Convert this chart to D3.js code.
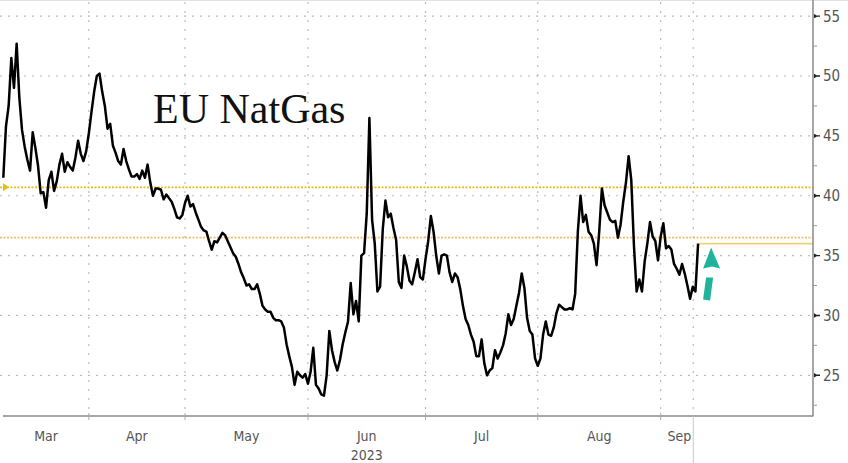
<!DOCTYPE html>
<html>
<head>
<meta charset="utf-8">
<script src="https://cdn.jsdelivr.net/npm/d3@7"></script>
<style>
  html, body { margin: 0; padding: 0; background: #fff; }
  svg { display: block; }
</style>
</head>
<body>
<svg id="chart" width="848" height="463"></svg>
<script>
// ---- data: EU NatGas, two readings per trading day, ~10 Mar 2023 to ~12 Sep 2023 ----
const prices = [
  41.5, 45.8, 47.5, 51.5, 49.0, 52.7, 48.2, 45.5, 44.1, 43.0,
  42.1, 45.3, 44.0, 42.5, 40.2, 40.3, 39.0, 41.3, 42.0, 40.4,
  41.2, 42.6, 43.5, 42.0, 42.8, 42.4, 42.1, 43.2, 44.6, 43.5,
  42.9, 43.7, 45.2, 47.0, 48.7, 50.0, 50.2, 48.7, 47.5, 45.6,
  46.0, 44.2, 43.6, 42.9, 42.6, 43.9, 42.9, 42.2, 41.6, 41.6,
  41.8, 41.4, 42.1, 41.5, 42.6, 41.1, 40.0, 40.6, 40.6, 40.5,
  39.7, 40.1, 39.8, 39.5, 38.9, 38.2, 38.1, 38.4, 39.4, 40.0,
  39.1, 39.3, 38.6, 38.0, 37.4, 37.1, 37.0, 36.2, 35.5, 36.2,
  36.1, 36.5, 36.9, 36.7, 36.2, 35.7, 35.2, 34.9, 34.3, 33.6,
  33.1, 32.5, 32.6, 32.2, 32.2, 32.6, 31.8, 30.8, 30.5, 30.3,
  30.3, 29.8, 29.6, 29.6, 29.5, 29.0, 27.6, 26.6, 25.7, 24.2,
  25.3, 25.0, 24.8, 25.1, 24.3, 25.3, 27.3, 24.2, 23.9, 23.4,
  23.3, 25.0, 28.7, 27.1, 26.1, 25.4, 26.3, 27.6, 28.6, 29.5,
  32.7, 30.1, 31.2, 29.5, 35.0, 35.2, 38.5, 46.5, 38.0, 36.0,
  32.0, 32.4, 37.2, 39.6, 38.2, 38.5, 37.3, 36.3, 32.8, 32.3,
  35.0, 34.1, 32.9, 32.6, 33.6, 34.7, 33.2, 33.0, 34.7, 36.2,
  38.3, 37.0, 35.0, 33.5, 35.0, 35.1, 35.0, 33.6, 32.8, 33.5,
  33.2, 32.2, 30.8, 29.7, 29.2, 28.4, 27.8, 26.6, 26.6, 28.0,
  26.0, 25.0, 25.4, 25.6, 27.1, 26.4, 26.9, 27.5, 28.5, 30.1,
  29.2, 29.7, 30.8, 31.9, 33.5, 32.3, 29.8, 28.7, 28.4, 26.4,
  25.8, 26.4, 28.4, 29.5, 28.4, 28.3, 29.0, 30.2, 30.9, 30.7,
  30.5, 30.5, 30.6, 30.5, 31.8, 37.0, 40.0, 37.8, 38.4, 37.0,
  36.7, 36.0, 34.2, 37.0, 40.6, 39.2, 38.6, 38.0, 37.8, 37.9,
  36.5, 37.6, 39.5, 41.1, 43.3, 41.3, 35.8, 32.0, 33.0, 32.0,
  34.5, 36.0, 37.8, 36.6, 36.2, 34.6, 36.6, 37.7, 35.6, 35.8,
  35.5, 34.3, 33.9, 33.4, 34.3, 33.5, 32.5, 31.4, 32.4, 32.0,
  36.0
];
const monthLabels = ["Mar", "Apr", "May", "Jun", "Jul", "Aug", "Sep"];
const monthStartIndex = [0, 32, 68, 114, 158, 200, 246];
const yearLabel = "2023";
const yTickValues = [25, 30, 35, 40, 45, 50, 55];
const yMinorValues = [22.5, 27.5, 32.5, 37.5, 42.5, 47.5, 52.5];
const levelHigh = 40.7;   // dotted golden line
const levelMid = 36.5;    // dotted orange line
const lastPrice = 36.0;   // last-price line
const titleText = "EU NatGas";

// ---- layout ----
const svg = d3.select("#chart");
const plotRight = 813, plotBottom = 416;
const x = d3.scaleLinear().domain([0, 303]).range([3.3, plotRight]);
const y = d3.scaleLinear().domain([21.6, 56.35]).range([plotBottom, 0]);
const lastIdx = prices.length - 1;
const todayIdx = lastIdx - 1.8;

const axisFont = "'DejaVu Sans Condensed','Liberation Sans Narrow','DejaVu Sans',sans-serif";

// top hairline
svg.append("line").attr("x1", 0).attr("x2", 848).attr("y1", 0.5).attr("y2", 0.5)
  .attr("stroke", "#e2e2e2").attr("stroke-width", 1);

// horizontal grid
svg.append("g").selectAll("line").data(yTickValues).join("line")
  .attr("x1", 0).attr("x2", plotRight)
  .attr("y1", d => y(d)).attr("y2", d => y(d))
  .attr("stroke", "#bdbdbd").attr("stroke-width", 1.2)
  .attr("stroke-dasharray", "2,6");

// vertical grid at month boundaries + today
const vgrid = monthStartIndex.slice(1).map(i => x(i)).concat([x(todayIdx)]);
svg.append("g").selectAll("line").data(vgrid).join("line")
  .attr("x1", d => d).attr("x2", d => d)
  .attr("y1", 2).attr("y2", plotBottom)
  .attr("stroke", "#bdbdbd").attr("stroke-width", 1.2)
  .attr("stroke-dasharray", "2,7");

// reference lines
svg.append("line").attr("x1", 0).attr("x2", plotRight)
  .attr("y1", y(levelHigh)).attr("y2", y(levelHigh))
  .attr("stroke", "#e8bd10").attr("stroke-width", 1.6).attr("stroke-dasharray", "2,1.5");
svg.append("path")
  .attr("d", `M3,${y(levelHigh) - 4} L9,${y(levelHigh)} L3,${y(levelHigh) + 4} Z`)
  .attr("fill", "#e8bd10");
svg.append("line").attr("x1", 0).attr("x2", plotRight)
  .attr("y1", y(levelMid)).attr("y2", y(levelMid))
  .attr("stroke", "#f4bd6a").attr("stroke-width", 1.6).attr("stroke-dasharray", "2,1.5");
svg.append("line").attr("x1", x(lastIdx)).attr("x2", plotRight)
  .attr("y1", y(lastPrice)).attr("y2", y(lastPrice))
  .attr("stroke", "#f1d272").attr("stroke-width", 1.6);

// price line
const line = d3.line().x((d, i) => x(i)).y(d => y(d)).curve(d3.curveLinear);
svg.append("path").datum(prices).attr("d", line)
  .attr("fill", "none").attr("stroke", "#000").attr("stroke-width", 2.5)
  .attr("stroke-linejoin", "round");

// axes lines
svg.append("line").attr("x1", plotRight).attr("x2", plotRight).attr("y1", 0).attr("y2", plotBottom + 0.5)
  .attr("stroke", "#8a8a8a").attr("stroke-width", 1.5);
svg.append("line").attr("x1", 3).attr("x2", plotRight).attr("y1", plotBottom).attr("y2", plotBottom)
  .attr("stroke", "#8a8a8a").attr("stroke-width", 1.5);

// y ticks & labels
const gy = svg.append("g");
gy.selectAll("path.maj").data(yTickValues).join("path").attr("class", "maj")
  .attr("d", d => `M${plotRight + 1},${y(d) - 2.2} L${plotRight + 5},${y(d)} L${plotRight + 1},${y(d) + 2.2} Z M${plotRight + 4},${y(d) - 0.7} h3 v1.4 h-3 Z`)
  .attr("fill", "#222");
gy.selectAll("line.min").data(yMinorValues).join("line").attr("class", "min")
  .attr("x1", plotRight).attr("x2", plotRight + 4)
  .attr("y1", d => y(d)).attr("y2", d => y(d))
  .attr("stroke", "#999").attr("stroke-width", 1);
gy.selectAll("text").data(yTickValues).join("text")
  .attr("x", plotRight + 10).attr("y", d => y(d)).attr("dy", "0.36em")
  .attr("font-family", axisFont).attr("font-size", 15).attr("fill", "#555")
  .text(d => d);

// x ticks & labels
const boundaries = monthStartIndex.slice(1);
svg.append("g").selectAll("line").data(boundaries).join("line")
  .attr("x1", d => x(d)).attr("x2", d => x(d))
  .attr("y1", plotBottom - 3).attr("y2", plotBottom + 4)
  .attr("stroke", "#aaa").attr("stroke-width", 1);
const edges = monthStartIndex.concat([lastIdx]);
svg.append("g").selectAll("text").data(monthLabels).join("text")
  .attr("x", (d, k) => (x(edges[k]) + x(edges[k + 1])) / 2)
  .attr("y", plotBottom + 25)
  .attr("text-anchor", "middle")
  .attr("font-family", axisFont).attr("font-size", 14).attr("fill", "#555")
  .text(d => d);
svg.append("text")
  .attr("x", (x(monthStartIndex[3]) + x(monthStartIndex[4])) / 2)
  .attr("y", plotBottom + 44).attr("text-anchor", "middle")
  .attr("font-family", axisFont).attr("font-size", 14).attr("fill", "#555")
  .text(yearLabel);
// today marker below axis
svg.append("line").attr("x1", x(todayIdx)).attr("x2", x(todayIdx))
  .attr("y1", plotBottom).attr("y2", 463)
  .attr("stroke", "#c8c8c8").attr("stroke-width", 1);

// title
svg.append("text").attr("x", 153).attr("y", 123)
  .attr("font-family", "'Liberation Serif','Times New Roman',serif")
  .attr("font-size", 42).attr("fill", "#111")
  .text(titleText);

// teal arrow
const ax = x(lastIdx) + 13;
const ay = y(lastPrice) + 4;
const arrow = svg.append("g").attr("fill", "#1fb39b");
arrow.append("path")
  .attr("d", `M${ax},${ay} L${ax + 9},${ay + 21} L${ax + 1},${ay + 19} L${ax - 8},${ay + 21} Z`);
arrow.append("path")
  .attr("d", `M${ax - 5},${ay + 30} L${ax + 2},${ay + 30} L${ax - 1},${ay + 53} L${ax - 8},${ay + 52} Z`);
</script>
</body>
</html>
